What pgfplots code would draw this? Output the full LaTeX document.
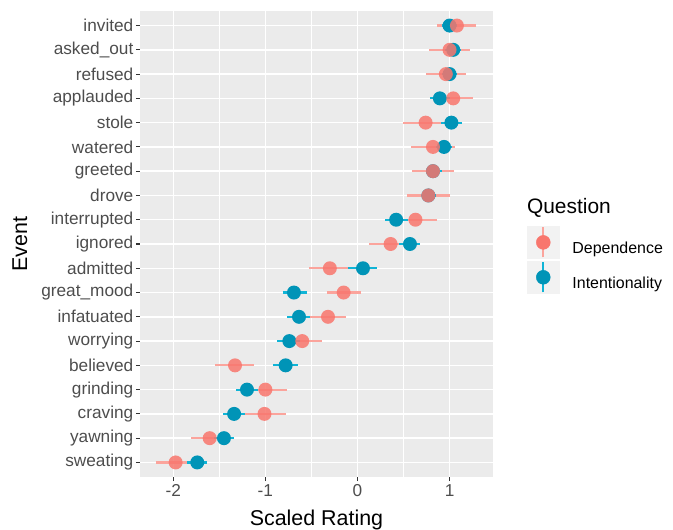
\documentclass[border=0pt]{standalone}
\usepackage{pgfplots}
\pgfplotsset{compat=1.18}
\usepackage{pgfplotstable}
\usepackage{fontspec}
\setmainfont{Liberation Sans}
\definecolor{redpt}{HTML}{F8766D}
\definecolor{redln}{HTML}{FBA49C}
\definecolor{bluept}{HTML}{0094B7}
\definecolor{blueln}{HTML}{10B4D6}
\definecolor{panel}{HTML}{EBEBEB}
\definecolor{keybg}{HTML}{F2F2F2}
\definecolor{tickc}{HTML}{333333}
\definecolor{labc}{HTML}{4D4D4D}

% Dependence
\pgfplotstableread{
y x lo hi
19 1.08 0.86 1.29
18 1.00 0.78 1.22
17 0.96 0.74 1.18
16 1.04 0.82 1.26
15 0.74 0.49 0.99
14 0.82 0.58 1.06
13 0.82 0.59 1.05
12 0.77 0.54 1.00
11 0.63 0.40 0.86
10 0.36 0.13 0.58
9 -0.30 -0.53 -0.07
8 -0.15 -0.33 0.04
7 -0.32 -0.55 -0.13
6 -0.60 -0.80 -0.385
5 -1.33 -1.55 -1.12
4 -1.00 -1.22 -0.77
3 -1.01 -1.23 -0.78
2 -1.605 -1.81 -1.40
1 -1.975 -2.19 -1.76
}\dep

% Intentionality
\pgfplotstableread{
y x lo hi
19 1.00 0.92 1.08
18 1.04 0.95 1.12
17 1.00 0.92 1.08
16 0.895 0.79 1.00
15 1.02 0.91 1.13
14 0.94 0.85 1.03
13 0.82 0.74 0.92
12 0.77 0.70 0.85
11 0.42 0.30 0.55
10 0.57 0.45 0.68
9 0.06 -0.10 0.21
8 -0.69 -0.81 -0.55
7 -0.635 -0.77 -0.52
6 -0.74 -0.87 -0.62
5 -0.78 -0.92 -0.645
4 -1.20 -1.32 -1.08
3 -1.34 -1.46 -1.225
2 -1.45 -1.56 -1.34
1 -1.74 -1.85 -1.635
}\intn

\begin{document}
\begin{tikzpicture}
\useasboundingbox (-140bp,-53bp) rectangle (533bp,477bp);
\begin{axis}[
 at={(0,0)}, anchor=south west,
 width=353bp, height=466bp, scale only axis,
 xmin=-2.362, xmax=1.472, ymin=0.4, ymax=19.6,
 axis background/.style={fill=panel},
 axis line style={draw=none},
 tick pos=left, tick align=outside,
 major tick length=4bp, minor tick length=0pt,
 every tick/.style={tickc, line width=1.1bp},
 xtick={-2,-1,0,1}, xticklabels={-2,-1,0,1},
 minor xtick={-1.5,-0.5,0.5},
 ytick={1,...,19},
 yticklabels={sweating,yawning,craving,grinding,believed,worrying,infatuated,great\_mood,admitted,ignored,interrupted,drove,greeted,watered,stole,applauded,refused,asked\_out,invited},
 grid=both,
 major grid style={white, line width=1.5bp},
 minor grid style={white, line width=0.75bp},
 ticklabel style={font=\fontsize{17.3}{20}\selectfont, text=labc},
 yticklabel style={inner sep=0.25em},
 xlabel={Scaled Rating}, ylabel={Event},
 every axis x label/.style={at={(rel axis cs:0.5,-0.104)}, anchor=base, font=\fontsize{21.5}{25}\selectfont},
 every axis y label/.style={at={(rel axis cs:-0.340,0.5)}, anchor=center, rotate=90, font=\fontsize{21.5}{25}\selectfont},
 clip=false,
 legend style={at={(1.096,0.466)}, anchor=west, draw=none, fill=none, inner sep=0pt,
   row sep=2.5bp, font=\fontsize{16}{19}\selectfont, nodes={inner sep=0pt}},
 legend cell align=left,
]
% error bars
\addplot[draw=none, mark=none, forget plot,
  error bars/.cd, x dir=both, x explicit, error mark=none,
  error bar style={draw=redln, line width=2.2bp, solid}]
  table[x=x, y=y, x error plus expr=\thisrow{hi}-\thisrow{x}, x error minus expr=\thisrow{x}-\thisrow{lo}] {\dep};
\addplot[draw=none, mark=none, forget plot,
  error bars/.cd, x dir=both, x explicit, error mark=none,
  error bar style={draw=blueln, line width=2.2bp, solid}]
  table[x=x, y=y, x error plus expr=\thisrow{hi}-\thisrow{x}, x error minus expr=\thisrow{x}-\thisrow{lo}] {\intn};
% points
\addplot[only marks, mark=*, mark size=7bp, mark options={draw opacity=0, fill=bluept}, forget plot]
  table[x=x, y=y] {\intn};
\addplot[only marks, mark=*, mark size=7bp, mark options={draw opacity=0, fill=redpt, fill opacity=0.85}, forget plot]
  table[x=x, y=y] {\dep};

\addlegendimage{legend image code/.code={
  \fill[keybg] (0bp,-10.2bp) rectangle (32bp,21.8bp);
  \draw[redln, line width=2.2bp] (16bp,-9.2bp) -- (16bp,20.8bp);
  \fill[redpt] (16bp,5.8bp) circle[radius=7bp];
  \path (45bp,5.8bp);
}}
\addlegendentry{Dependence}
\addlegendimage{legend image code/.code={
  \fill[keybg] (0bp,-10.2bp) rectangle (32bp,21.8bp);
  \draw[blueln, line width=2.2bp] (16bp,-9.2bp) -- (16bp,20.8bp);
  \fill[bluept] (16bp,5.8bp) circle[radius=7bp];
  \path (45bp,5.8bp);
}}
\addlegendentry{Intentionality}

\node[anchor=base west, font=\fontsize{21}{25}\selectfont, inner sep=0pt] at (rel axis cs:1.096,0.5665) {Question};
\end{axis}
\end{tikzpicture}
\end{document}
